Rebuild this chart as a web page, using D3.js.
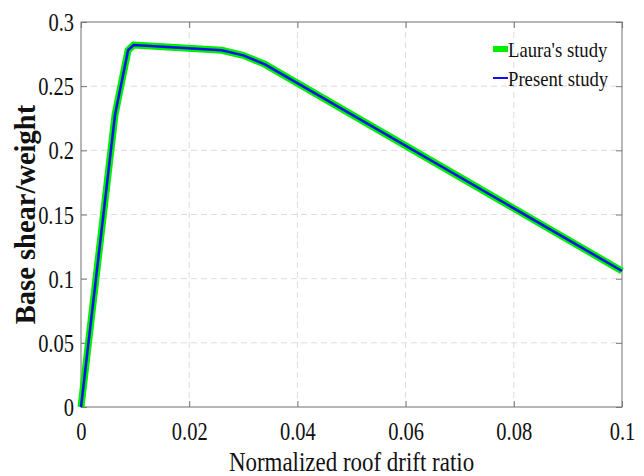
<!DOCTYPE html>
<html>
<head>
<meta charset="utf-8">
<script src="https://cdn.jsdelivr.net/npm/d3@7"></script>
<style>
  svg text { font-family: 'Liberation Serif', serif !important; }
</style>
</head>
<body style="margin:0;background:#fff">
<svg id="chart" width="644" height="476" font-family="Liberation Serif"></svg>
<script>
// drift ratio vs base shear/weight
var driftRatio = [0, 0.0063, 0.0087, 0.0097, 0.026, 0.030, 0.034, 0.1];
var lauraShear = [0, 0.228, 0.278, 0.282, 0.278, 0.274, 0.267, 0.106];
var presentShear = [0, 0.228, 0.278, 0.282, 0.278, 0.274, 0.267, 0.106];
var xTicks = [0, 0.02, 0.04, 0.06, 0.08, 0.1];
var yTicks = [0, 0.05, 0.1, 0.15, 0.2, 0.25, 0.3];
var seriesNames = ["Laura's study", "Present study"];

var margin = { top: 22, right: 22, bottom: 69, left: 81 };
var width = 644 - margin.left - margin.right;
var height = 476 - margin.top - margin.bottom;
var sx = 0.82; // text in the figure is squeezed horizontally
var serif = 'Liberation Serif';

var svg = d3.select('#chart');
var g = svg.append('g')
    .attr('transform', 'translate(' + margin.left + ',' + margin.top + ')');

var x = d3.scaleLinear().domain([0, 0.1]).range([0, width]);
var y = d3.scaleLinear().domain([0, 0.3]).range([height, 0]);

// grid
g.selectAll('.gx').data(xTicks.slice(1, -1)).enter().append('line')
    .attr('x1', function (d) { return x(d); }).attr('x2', function (d) { return x(d); })
    .attr('y1', 0).attr('y2', height)
    .attr('stroke', '#ddd').attr('stroke-dasharray', '6,4').attr('stroke-width', 1);
g.selectAll('.gy').data(yTicks.slice(1, -1)).enter().append('line')
    .attr('y1', function (d) { return y(d); }).attr('y2', function (d) { return y(d); })
    .attr('x1', 0).attr('x2', width)
    .attr('stroke', '#ddd').attr('stroke-dasharray', '6,4').attr('stroke-width', 1);

// box
g.append('rect').attr('width', width).attr('height', height)
    .attr('fill', 'none').attr('stroke', '#888').attr('stroke-width', 1.2);

// inward ticks on all sides
var fmt = function (d) { return d3.format('~g')(d); };
var axX = g.append('g').attr('transform', 'translate(0,' + height + ')')
    .call(d3.axisBottom(x).tickValues(xTicks).tickSize(-6).tickFormat(fmt));
var axXt = g.append('g')
    .call(d3.axisTop(x).tickValues(xTicks).tickSize(-6).tickFormat(''));
var axY = g.append('g')
    .call(d3.axisLeft(y).tickValues(yTicks).tickSize(-6).tickFormat(fmt));
var axYr = g.append('g').attr('transform', 'translate(' + width + ',0)')
    .call(d3.axisRight(y).tickValues(yTicks).tickSize(-6).tickFormat(''));
[axX, axXt, axY, axYr].forEach(function (a) {
    a.attr('font-family', serif).attr('font-size', 25);
    a.select('.domain').remove();
    a.selectAll('line').attr('stroke', '#777');
});
axX.selectAll('.tick text')
    .attr('font-family', serif).attr('font-size', 25)
    .attr('fill', '#111')
    .attr('y', 33).attr('dy', null)
    .attr('transform', 'scale(' + sx + ',1)');
axY.selectAll('.tick text')
    .attr('font-family', serif).attr('font-size', 25)
    .attr('fill', '#111')
    .attr('x', -7 / sx).attr('dy', '0.34em')
    .attr('transform', 'scale(' + sx + ',1)');

// lines
var pts = function (ys) { return driftRatio.map(function (d, i) { return [d, ys[i]]; }); };
var line = d3.line().x(function (d) { return x(d[0]); }).y(function (d) { return y(d[1]); });
g.append('path').datum(pts(lauraShear))
    .attr('fill', 'none').attr('stroke', '#00ee00').attr('stroke-width', 7)
    .attr('stroke-linejoin', 'round').attr('d', line);
g.append('path').datum(pts(presentShear))
    .attr('fill', 'none').attr('stroke', '#1010ee').attr('stroke-width', 2.5)
    .attr('stroke-linejoin', 'round').attr('d', line);

// legend
var legend = g.append('g').attr('transform', 'translate(' + (width - 129) + ',27)');
var legColors = ['#00ee00', '#1010ee'];
var legWidths = [6, 2];
seriesNames.forEach(function (name, i) {
    var row = legend.append('g').attr('transform', 'translate(0,' + (i * 29) + ')');
    row.append('line').attr('x1', 0).attr('x2', 15).attr('y1', 0).attr('y2', 0)
        .attr('stroke', legColors[i]).attr('stroke-width', legWidths[i]);
    row.append('text').attr('x', 15 / 0.85).attr('y', 0).attr('dy', '0.35em')
        .attr('font-family', serif).attr('font-size', 22).attr('fill', '#111')
        .attr('transform', 'scale(0.85,1)').text(name);
});

// axis titles
svg.append('text')
    .attr('transform', 'translate(' + (margin.left + width / 2) + ',471) scale(0.85,1)')
    .attr('text-anchor', 'middle')
    .attr('font-family', serif).attr('font-size', 27).attr('fill', '#111')
    .text('Normalized roof drift ratio');
svg.append('text')
    .attr('transform', 'translate(35,' + (margin.top + height / 2) + ') rotate(-90)')
    .attr('text-anchor', 'middle')
    .attr('font-family', serif).attr('font-size', 28.5).attr('font-weight', 'bold')
    .attr('fill', '#111')
    .text('Base shear/weight');
</script>
</body>
</html>
